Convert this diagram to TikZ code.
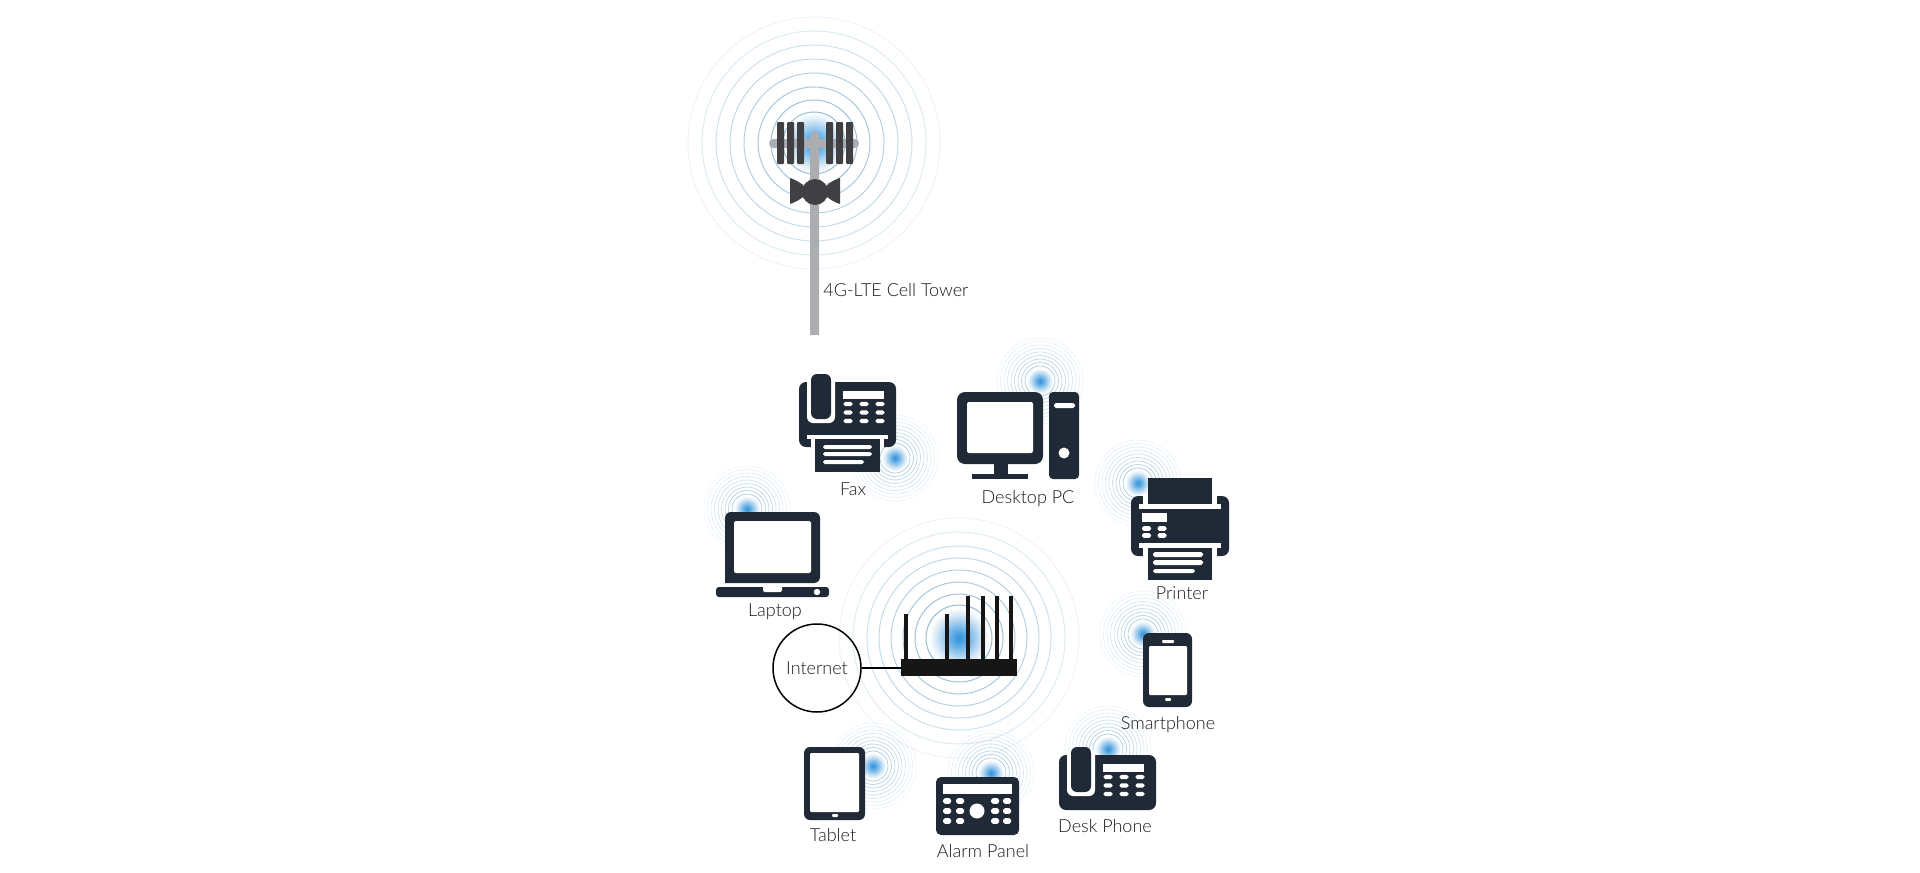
\documentclass[tikz,border=0pt]{standalone}
\usepackage{fontspec}
\setmainfont{Lato Light}
\usetikzlibrary{shapes.geometric}
\definecolor{icondark}{HTML}{1F2A36}
\definecolor{towerdark}{HTML}{404043}
\definecolor{towergrey}{HTML}{ABADB0}
\definecolor{routerblack}{HTML}{161616}
\definecolor{ringblue}{HTML}{7FAFCC}
\definecolor{labeltext}{HTML}{1A1A1C}
\pgfdeclareradialshading{glowbig}{\pgfpointorigin}{rgb(0bp)=(0.20,0.58,0.86);rgb(4bp)=(0.30,0.63,0.88);rgb(11bp)=(0.54,0.76,0.92);rgb(18bp)=(0.80,0.89,0.96);rgb(25bp)=(1,1,1);rgb(50bp)=(1,1,1)}
\tikzset{
  caption/.style={font=\fontsize{9}{11}\selectfont, text=labeltext, inner sep=0pt, text height=0.72em, text depth=0.2em},
  ico/.style={fill=icondark, draw=none},
  cut/.style={fill=white, draw=none},
  pill/.style={fill=white, draw=none, rounded corners=0.9pt},
  towerpart/.style={fill=towerdark, draw=none},
  ring/.style={draw=ringblue, fill=none},
}
% Concentric radio rings with a soft glow at the centre
\newcommand{\bigrings}[3]{%
  \foreach \r/\o in {#3}{\draw[ring, line width=0.5pt, opacity=\o] (#1,#2) circle (\r);}
  \shade[shading=glowbig] (#1,#2) circle (30);
}
\newcommand{\smallrings}[2]{%
  \foreach \r/\o in {43/0.14,39.5/0.20,36/0.26,32.5/0.34,29/0.42,25.5/0.50,22/0.58,18.5/0.66,15/0.74}{\draw[ring, line width=0.3pt, opacity=\o] (#1,#2) circle (\r);}
  \shade[shading=glowbig] (#1,#2) circle (13);
}
% Telephone body with handset and keypad, shared by the fax and the desk phone;
% the third argument is the lower edge of the body below the handset top
\newcommand{\phonebody}[3]{%
  \begin{scope}[shift={(#1,#2)}]
    \fill[ico, rounded corners=3.5pt] (-12,8) rectangle (85,#3);
    \fill[cut, rounded corners=3pt] (-4,2) rectangle (24,49);
    \fill[ico, rounded corners=3pt] (0,0) rectangle (20,45);
    \fill[cut] (32,17) rectangle (73,25);
    \foreach \cx in {37,53,69}\foreach \cy in {30,38.5,47}{\fill[pill] (\cx-4.5,\cy-2.2) rectangle (\cx+4.5,\cy+2.2);}
  \end{scope}
}
\begin{document}
\begin{tikzpicture}[x=0.5pt,y=-0.5pt]
\useasboundingbox (0,0) rectangle (1920,872);

% radio rings, behind every device
\bigrings{814}{143}{126/0.14,112/0.26,98/0.38,84/0.48,70/0.58,56/0.68,43/0.76,31/0.84}
\bigrings{959}{638}{120/0.14,106/0.26,92/0.38,80/0.48,68/0.58,56/0.68,44/0.76,33/0.84}
\smallrings{1040}{381}
\smallrings{895}{458}
\smallrings{747}{509}
\smallrings{1138}{483}
\smallrings{1143}{634}
\smallrings{873}{766}
\smallrings{991}{773}
\smallrings{1108}{749}

% cell tower
\fill[towergrey, rounded corners=2.2pt] (769,139) rectangle (859,148);
\fill[towergrey] (810,335) -- (810,136) .. controls (810,133) and (812,131) .. (814.5,131) .. controls (817,131) and (819,133) .. (819,136) -- (819,335) -- cycle;
\foreach \px in {777,787,797,826,836,846}{\fill[towerpart, rounded corners=0.5pt] (\px,122) rectangle (\px+7,164);}
\fill[towerpart] (790,178) .. controls (802,182) and (806,188) .. (806,191) .. controls (806,194) and (802,200) .. (790,204) -- cycle;
\fill[towerpart] (840,178) .. controls (828,182) and (824,188) .. (824,191) .. controls (824,194) and (828,200) .. (840,204) -- cycle;
\fill[towerpart] (815,192) circle (13);
\node[caption, anchor=west] (towerlabel) at (823,291) {4G-LTE Cell Tower};

% fax
\phonebody{811}{374}{73}
\fill[cut] (807,435) rectangle (888,439);
\fill[cut] (811,439) rectangle (884,448);
\fill[ico] (815,439) rectangle (880,472);
\fill[pill] (823,445) rectangle (872,449);
\fill[pill] (823,452) rectangle (872,456);
\fill[pill] (823,460) rectangle (864,464);
\node[caption] (faxlabel) at (853,490) {Fax};

% desktop computer
\fill[ico, rounded corners=4pt] (957,392) rectangle (1043,464);
\fill[cut, rounded corners=1pt] (967,402) rectangle (1033,453);
\fill[ico] (994,464) rectangle (1008,474);
\fill[ico] (972,474) rectangle (1028,479);
\fill[ico, rounded corners=2pt] (1049,392) rectangle (1079,479);
\fill[pill] (1054,403) rectangle (1075,408);
\fill[cut] (1064,453) circle (5.5);
\node[caption] (pclabel) at (1028,498) {Desktop PC};

% laptop
\fill[ico, rounded corners=3pt] (725,583) -- (725,512) -- (820,512) -- (820,583) [sharp corners] -- cycle;
\fill[cut, rounded corners=1pt] (734,521) rectangle (811,573);
\fill[ico, rounded corners=1.5pt] (716,587) -- (829,587) -- (829,597) -- (716,597) -- cycle;
\fill[cut, rounded corners=1pt] (763,585) rectangle (782,592);
\fill[cut] (817,592) circle (3.2);
\node[caption] (laptoplabel) at (775,611) {Laptop};

% printer
\fill[ico, rounded corners=3.5pt] (1131,496) rectangle (1229,556);
\fill[cut] (1143,494) rectangle (1217,504);
\fill[cut] (1139,504) rectangle (1221,509);
\fill[ico] (1148,478) rectangle (1212,504);
\fill[cut] (1142,513) rectangle (1167,522);
\foreach \cx in {1146.5,1162}\foreach \cy in {528.5,535.5}{\fill[pill] (\cx-4.5,\cy-2.4) rectangle (\cx+4.5,\cy+2.4);}
\fill[cut] (1139,543) rectangle (1221,548);
\fill[cut] (1143,548) rectangle (1217,558);
\fill[ico] (1148,548) rectangle (1212,580);
\fill[pill] (1153,552) rectangle (1203,557);
\fill[pill] (1153,560) rectangle (1203,565);
\fill[pill] (1153,569) rectangle (1195,573);
\node[caption] (printerlabel) at (1182,594) {Printer};

% smartphone
\fill[ico, rounded corners=3pt] (1143,633) rectangle (1192,707);
\fill[cut, rounded corners=0.6pt] (1149,646) rectangle (1187,695);
\fill[cut, rounded corners=0.5pt] (1162,640) rectangle (1174,643);
\fill[cut, rounded corners=0.5pt] (1165,698) rectangle (1171,701);
\node[caption] (phonelabel) at (1168,724) {Smartphone};

% tablet
\fill[ico, rounded corners=3pt] (804,747) rectangle (865,820);
\fill[cut, rounded corners=0.6pt] (810,753) rectangle (859,812);
\fill[cut, rounded corners=0.5pt] (832,814) rectangle (838,817);
\node[caption] (tabletlabel) at (833,836) {Tablet};

% alarm panel
\fill[ico, rounded corners=2.5pt] (936,777) rectangle (1019,835);
\fill[cut] (943,784) rectangle (1012,794);
\foreach \cx in {947,960,995,1007}\foreach \cy in {801,811,821}{\fill[pill] (\cx-4,\cy-2.8) rectangle (\cx+4,\cy+2.8);}
\fill[cut] (977,811) circle (7.5);
\node[caption] (alarmlabel) at (983,852) {Alarm Panel};

% desk phone
\phonebody{1071}{747}{63}
\node[caption] (desklabel) at (1105,827) {Desk Phone};

% router and its link to the internet
\foreach \px/\ptop in {904/614,945/614,966/596,981/596,995/596,1009/596}{\fill[routerblack] (\px,\ptop) rectangle (\px+3.6,660);}
\node[fill=routerblack, minimum width=58pt, minimum height=8.5pt, inner sep=0pt, outer sep=0pt] (router) at (959,667.5) {};
\node[circle, draw=black, line width=0.75pt, minimum size=44pt, inner sep=0pt, font=\fontsize{9}{11}\selectfont, text=labeltext] (internet) at (817,668) {Internet};
\draw[black, line width=0.75pt] (internet.east) -- (router.west |- internet.east);
\end{tikzpicture}
\end{document}
